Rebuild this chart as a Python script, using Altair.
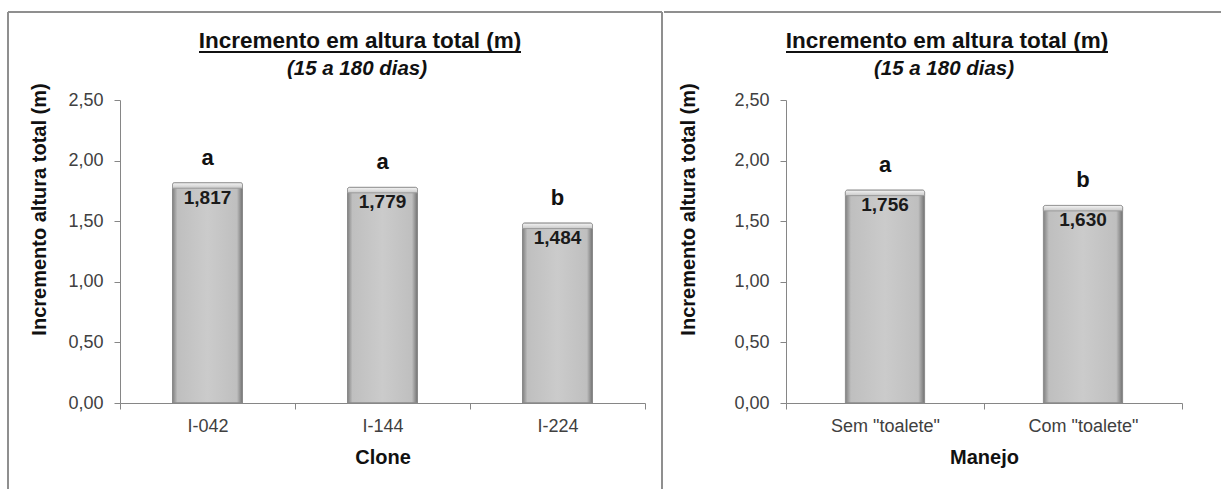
import altair as alt
import pandas as pd

# Incremento em altura total (m), 15 a 180 dias
clones = ["I-042", "I-144", "I-224"]
clone_values = [1.817, 1.779, 1.484]
clone_groups = ["a", "a", "b"]

manejos = ['Sem "toalete"', 'Com "toalete"']
manejo_values = [1.756, 1.630]
manejo_groups = ["a", "b"]

y_ticks = [0.0, 0.5, 1.0, 1.5, 2.0, 2.5]

TITLE = "Incremento em altura total (m)"
SUBTITLE = "(15 a 180 dias)"
Y_TITLE = "Incremento altura total (m)"

SANS = "Liberation Sans, Arial, sans-serif"

PLOT_H = 303
AXIS_GREY = "#868686"
LABEL_GREY = "#404040"
BORDER = "#8f8f8f"

bar_fill = alt.Gradient(
    gradient="linear", x1=0, x2=1, y1=0, y2=0,
    stops=[
        alt.GradientStop(color="#808080", offset=0),
        alt.GradientStop(color="#bfbfbf", offset=0.07),
        alt.GradientStop(color="#cbcbcb", offset=0.5),
        alt.GradientStop(color="#bfbfbf", offset=0.92),
        alt.GradientStop(color="#727272", offset=1),
    ],
)
cap_fill = alt.Gradient(
    gradient="linear", x1=0, x2=0, y1=0, y2=1,
    stops=[
        alt.GradientStop(color="#f4f4f4", offset=0),
        alt.GradientStop(color="#c9c9c9", offset=1),
    ],
)


def one_row(**kw):
    return pd.DataFrame({k: [v] for k, v in kw.items()})


def rule(x1, x2, y1, y2, color=BORDER, width=2):
    return alt.Chart(one_row(k=0)).mark_rule(color=color, strokeWidth=width).encode(
        x=alt.value(x1), x2=alt.value(x2), y=alt.value(y1), y2=alt.value(y2)
    )


def panel(categories, values, groups, x_title, plot_w, ytitle_x, title_cx, frame):
    df = pd.DataFrame({"cat": categories, "v": values, "g": groups})
    base = alt.Chart(df).transform_calculate(
        label="replace(format(datum.v, '.3f'), '.', ',')",
        cap="datum.v - 0.045",
    )
    x = alt.X(
        "cat:N", sort=categories, title=x_title,
        scale=alt.Scale(paddingInner=0, paddingOuter=0),
        axis=alt.Axis(
            labelAngle=0, tickBand="extent", tickSize=6, labelPadding=8,
            labelFont=SANS, labelFontSize=18, labelColor=LABEL_GREY,
            domainColor=AXIS_GREY, tickColor=AXIS_GREY,
            titleFont=SANS, titleFontSize=20, titleFontWeight="bold",
            titleColor="#111111", titleY=60, titleBaseline="alphabetic",
        ),
    )
    y = alt.Y(
        "v:Q", title=Y_TITLE,
        scale=alt.Scale(domain=[0, 2.5], nice=False, zero=True),
        axis=alt.Axis(
            values=y_ticks, grid=False, tickSize=6, labelPadding=11,
            labelExpr="replace(format(datum.value, '.2f'), '.', ',')",
            labelFont=SANS, labelFontSize=18, labelColor=LABEL_GREY,
            domainColor=AXIS_GREY, tickColor=AXIS_GREY,
            titleFont=SANS, titleFontSize=20, titleFontWeight="bold",
            titleColor="#111111", titleAngle=270, titleX=ytitle_x, titleY=109,
            titleAlign="center", titleBaseline="middle",
        ),
    )

    bars = base.mark_bar(
        width=alt.RelativeBandSize(0.4), fill=bar_fill, stroke="#8a8a8a",
        strokeWidth=1, cornerRadiusTopLeft=2, cornerRadiusTopRight=2,
    ).encode(x=x, y=y)
    caps = base.mark_bar(
        width=alt.RelativeBandSize(0.4), fill=cap_fill, stroke="#9a9a9a",
        strokeWidth=1, cornerRadiusTopLeft=2, cornerRadiusTopRight=2,
    ).encode(x=x, y="v:Q", y2="cap:Q")
    values_txt = base.mark_text(
        font=SANS, fontSize=19, fontWeight="bold", color="#1a1a1a",
        baseline="middle", dy=15,
    ).encode(x=x, y="v:Q", text="label:N")
    letters = base.mark_text(
        font=SANS, fontSize=22, fontWeight="bold", color="#111111",
        baseline="alphabetic", dy=-18,
    ).encode(x=x, y="v:Q", text="g:N")

    title_w = 322
    title = alt.Chart(one_row(t=TITLE)).mark_text(
        font=SANS, fontSize=22.5, fontWeight="bold", color="#111111",
        baseline="alphabetic", align="center",
    ).encode(x=alt.value(title_cx), y=alt.value(-52), text="t:N")
    underline = rule(title_cx - title_w / 2, title_cx + title_w / 2, -48, -48,
                     color="#111111", width=2)
    subtitle = alt.Chart(one_row(t=SUBTITLE)).mark_text(
        font=SANS, fontSize=20.5, fontWeight="bold", fontStyle="italic",
        color="#111111", baseline="alphabetic", align="center",
    ).encode(x=alt.value(title_cx - 3), y=alt.value(-25), text="t:N")

    return alt.layer(
        *frame, bars, caps, values_txt, letters, title, underline, subtitle
    ).properties(width=plot_w, height=PLOT_H)


left_frame = [
    rule(-112, 542, -88, -88),
    rule(-112, -112, -88, 389),
    rule(542, 542, -88, 389),
]
right_frame = [
    rule(-122, 435, -88, -88),
]

left = panel(clones, clone_values, clone_groups, "Clone", 525, -81, 240, left_frame)
right = panel(manejos, manejo_values, manejo_groups, "Manejo", 396, -98, 161, right_frame)

chart = alt.hconcat(left, right, spacing=0).properties(
    padding={"left": 7, "top": 11, "right": 0, "bottom": 0},
    background="white",
).configure_view(stroke=None)

chart.save("out.html", embed_options={"renderer": "svg", "actions": False})
